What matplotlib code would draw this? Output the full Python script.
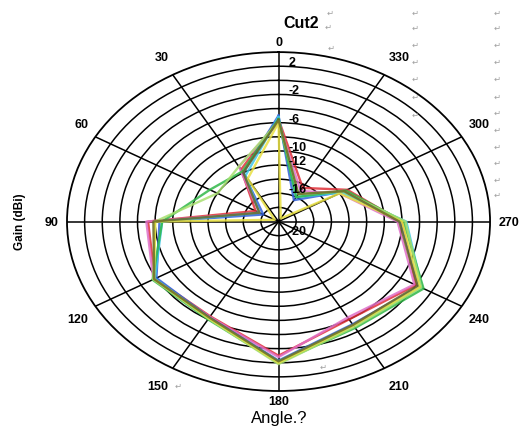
import matplotlib.pyplot as plt
import numpy as np

plt.rcParams['font.family'] = ['Liberation Sans', 'DejaVu Sans']

# angles of the measured cut (degrees) and gain of each trace (dBi)
angles = [0, 30, 60, 90, 120, 150, 180, 210, 240, 270, 300, 330]
red = [-5.5, -11.5, -17.0, -5.2, -3.8, -4.5, -1.0, -4.0, -2.0, -6.0, -11.0, -14.5]
pink = [-6.0, -11.0, -17.5, -5.0, -3.6, -4.4, -0.8, -4.3, -2.2, -6.5, -12.0, -15.0]
blue = [-5.0, -12.0, -18.0, -6.5, -4.0, -4.3, -0.3, -3.2, -1.6, -6.2, -11.5, -16.5]
cyan = [-5.2, -12.5, -17.5, -6.8, -3.8, -4.2, -0.2, -3.0, -1.2, -5.5, -11.8, -16.0]
green = [-5.5, -11.8, -11.0, -6.8, -3.5, -4.0, 0.0, -2.6, -1.0, -5.8, -11.2, -16.0]
lgreen = [-5.8, -11.0, -12.0, -6.0, -3.6, -4.1, 0.2, -2.8, -1.3, -5.6, -11.5, -15.5]
yellow = [-6.0, -13.0, -19.5, -6.0, -3.7, -4.2, 0.0, -3.0, -1.5, -6.0, -12.0, -19.5]
olive = [-5.6, -12.0, -17.5, -5.8, -3.7, -4.3, -0.2, -3.1, -1.8, -6.3, -11.4, -15.5]

traces = [red, pink, blue, cyan, green, lgreen, yellow, olive]
colors = ['#e03038', '#e070c8', '#3060d8', '#40c8e8', '#30b848', '#a8e070', '#e8e040', '#6a6a28']

r_labels = [2, -2, -6, -10, -12, -16, -20]
r_texts = ['2', '-2', '-6', '-10', '-12', '-16', '-20']

fig = plt.figure(figsize=(5.21, 4.35), dpi=100)
ax = fig.add_axes([0.1286, 0.0989, 0.812, 0.779], projection='polar')
ax.set_theta_zero_location('N')
ax.set_theta_direction(1)
ax.set_ylim(-20, 4)
ax.set_yticks(np.arange(-18, 4, 2))
ax.set_yticklabels([])
ax.set_xticks(np.radians(angles))
ax.set_xticklabels([])
ax.grid(True, color='black', lw=1.1)
ax.spines['polar'].set_linewidth(1.3)
ax.set_aspect('auto')

th = np.radians(angles + [360])
for vals, c in zip(traces, colors):
    ax.plot(th, vals + [vals[0]], color=c, lw=1.7, alpha=0.85)

# angle labels round the outer ring
for a in angles:
    t = np.radians(a)
    dx, dy = -np.sin(t), np.cos(t)
    ha = 'left' if dx > 0.3 else ('right' if dx < -0.3 else 'center')
    va = 'bottom' if dy > 0.3 else ('top' if dy < -0.3 else 'center')
    oy = 10 * dy if abs(dx) > 0.3 else 3 * dy
    ax.annotate(str(a), xy=(t, 4), xytext=(6 * dx, oy), textcoords='offset points',
                ha=ha, va=va, fontsize=9, fontweight='bold', annotation_clip=False)

# gain labels along the 0 spoke
for r, s in zip(r_labels, r_texts):
    off = (7, -7) if r == -20 else (7, 3)
    ax.annotate(s, xy=(0, r), xytext=off, textcoords='offset points',
                ha='left', va='center', fontsize=9, fontweight='bold', annotation_clip=False)

fig.text(301 / 521, 1 - 23 / 435, 'Cut2', ha='center', va='center', fontsize=11.5, fontweight='bold')
fig.text(20 / 521, 1 - 222 / 435, 'Gain (dBi)', rotation=90, ha='center', va='center',
         fontsize=8.5, fontweight='bold')
fig.text(279 / 521, 1 - 419 / 435, 'Angle.?', ha='center', va='center', fontsize=12)

# stray paragraph marks from the source document
marks = [(330, 13), (328, 27), (331, 48), (178, 386), (323, 367)]
marks += [(415, y) for y in [13, 28, 45, 62, 79, 97, 115]]
marks += [(497, y) for y in [13, 28, 45, 62, 79, 97, 113, 130, 147, 163, 180, 195]]
for x, y in marks:
    fig.text(x / 521, 1 - y / 435, '\u21b5', ha='center', va='center', fontsize=6,
             color='#a0a0a0', family=['DejaVu Sans'])

fig.savefig('out.png', dpi=100)
